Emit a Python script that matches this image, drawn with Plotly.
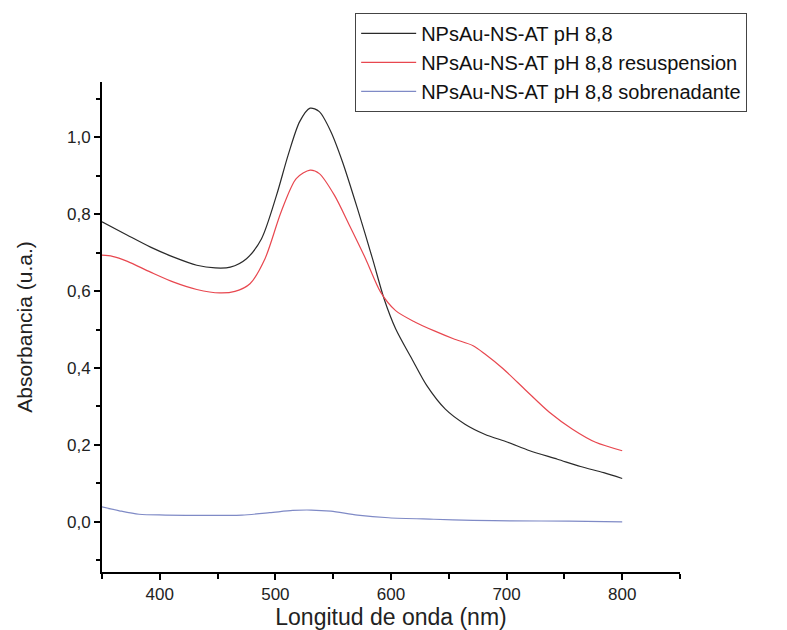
import plotly.graph_objects as go

# Black: NPsAu-NS-AT pH 8,8
wl_black = [350, 372, 392, 412, 432, 448, 461, 475, 488, 501, 511, 521, 530, 538, 548, 558,
            571, 584, 594, 604, 618, 631, 647, 664, 681, 701, 720, 744, 764, 784, 800]
abs_black = [0.780, 0.745, 0.714, 0.688, 0.667, 0.660, 0.662, 0.684, 0.736, 0.849, 0.953, 1.040,
             1.075, 1.066, 1.014, 0.936, 0.814, 0.684, 0.580, 0.502, 0.424, 0.354, 0.293, 0.254,
             0.228, 0.207, 0.185, 0.163, 0.144, 0.128, 0.113]

# Red: resuspension
wl_red = [350, 359, 372, 392, 412, 432, 452, 465, 478, 491, 505, 518, 530, 538, 551, 564,
          578, 591, 604, 621, 637, 654, 671, 681, 697, 717, 737, 757, 777, 800]
abs_red = [0.693, 0.690, 0.677, 0.649, 0.623, 0.604, 0.595, 0.599, 0.619, 0.684, 0.806, 0.892,
           0.914, 0.905, 0.849, 0.771, 0.684, 0.597, 0.549, 0.519, 0.497, 0.476, 0.458, 0.437,
           0.398, 0.341, 0.285, 0.241, 0.207, 0.185]

# Blue: sobrenadante
wl_blue = [350, 365, 382, 405, 438, 471, 495, 515, 531, 548, 571, 598, 637, 671, 704, 754, 800]
abs_blue = [0.039, 0.029, 0.020, 0.018, 0.017, 0.018, 0.024, 0.030, 0.031, 0.028, 0.018, 0.011,
            0.007, 0.004, 0.003, 0.002, 0.000]

series = [
    ('NPsAu-NS-AT pH 8,8', wl_black, abs_black, '#2a2a2a'),
    ('NPsAu-NS-AT pH 8,8 resuspension', wl_red, abs_red, '#e8474f'),
    ('NPsAu-NS-AT pH 8,8 sobrenadante', wl_blue, abs_blue, '#7f8ac6'),
]

fig = go.Figure()
for name, x, y, color in series:
    fig.add_trace(go.Scatter(
        x=x, y=y, mode='lines', name=name,
        line=dict(color=color, width=1.2, shape='spline', smoothing=0.8)
    ))

axis_common = dict(
    showline=True, linecolor='black', linewidth=2,
    ticks='outside', ticklen=6, tickwidth=2, tickcolor='black',
    showgrid=False, zeroline=False, mirror=False, automargin=False,
    tickfont=dict(size=17, color='#222'),
)

# page body adds ~8px offset, so size/margins are shifted to keep the plot box in place
fig.update_layout(
    width=779, height=622,
    margin=dict(l=94, r=107, t=74, b=58, autoexpand=False),
    plot_bgcolor='white', paper_bgcolor='white',
    font=dict(family='Liberation Sans, Arial', color='#222'),
    separators=',.',
    showlegend=True,
    legend=dict(
        x=0.438, y=1.141, xanchor='left', yanchor='top',
        bordercolor='#444', borderwidth=1, bgcolor='white',
        font=dict(size=20, color='#111'),
        tracegroupgap=0, itemwidth=55,
    ),
    xaxis=dict(
        **axis_common,
        range=[350, 850], tick0=0, dtick=100,
        minor=dict(dtick=50, ticks='outside', ticklen=5, tickwidth=2, tickcolor='black'),
        title=dict(text='Longitud de onda (nm)', font=dict(size=23), standoff=6),
    ),
    yaxis=dict(
        **axis_common,
        range=[-0.13, 1.143], tick0=0, dtick=0.2, tickformat='.1f',
        minor=dict(dtick=0.1, ticks='outside', ticklen=4, tickwidth=2, tickcolor='black'),
        title=dict(text='Absorbancia (u.a.)', font=dict(size=21), standoff=29),
    ),
)

fig.write_html('out.html')
